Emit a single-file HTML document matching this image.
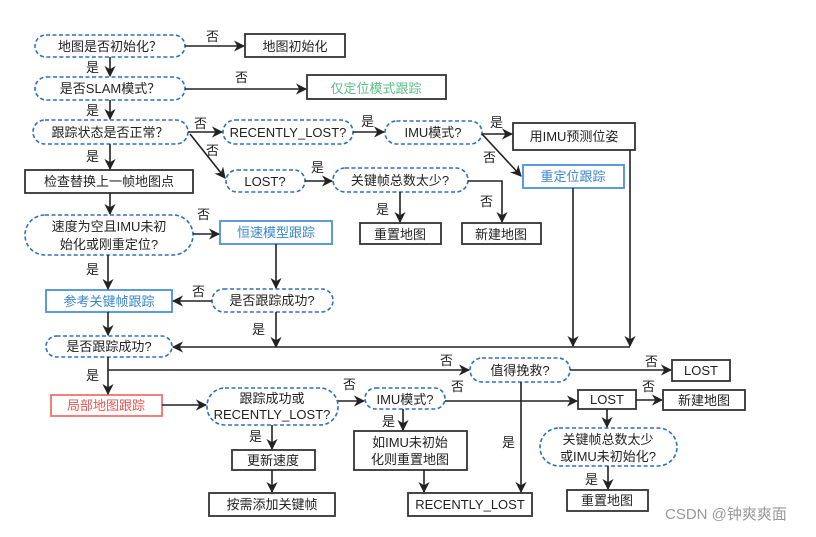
<!DOCTYPE html>
<html><head><meta charset="utf-8"><style>
body{margin:0;background:#fff}
svg text{font-family:"Liberation Sans","Noto Sans CJK SC",sans-serif;font-size:13px;fill:#222}
</style></head><body>
<svg width="816" height="532" viewBox="0 0 816 532" xmlns="http://www.w3.org/2000/svg">
<defs><marker id="a" viewBox="0 0 10 10" refX="9" refY="5" markerWidth="7" markerHeight="7" orient="auto"><path d="M0,0 L10,5 L0,10 L3,5z" fill="#222"/></marker></defs>
<g fill="none" stroke="#2f6fc0" stroke-width="1.6" stroke-dasharray="4,2.5">
<rect x="35" y="35" width="150" height="22" rx="11"/>
<rect x="35" y="77" width="150" height="23" rx="11.5"/>
<rect x="33" y="120" width="155" height="24" rx="12"/>
<rect x="223" y="120" width="130" height="24" rx="12"/>
<rect x="385" y="121" width="97" height="23" rx="11.5"/>
<rect x="226" y="170" width="79" height="22" rx="11"/>
<rect x="333" y="168" width="135" height="24" rx="12"/>
<rect x="25" y="215" width="168" height="40" rx="20"/>
<rect x="212" y="289" width="121" height="23" rx="11.5"/>
<rect x="46" y="336" width="126" height="21" rx="10.5"/>
<rect x="470" y="358" width="100" height="24" rx="12"/>
<rect x="207" y="388" width="131" height="37" rx="18"/>
<rect x="365" y="388" width="80" height="21" rx="10.5"/>
<rect x="540" y="428" width="137" height="38" rx="19"/>
</g>
<g fill="none" stroke="#333" stroke-width="1.8">
<rect x="245" y="34" width="100" height="23"/>
<rect x="307" y="75" width="139" height="24"/>
<rect x="513" y="123" width="122" height="27"/>
<rect x="25" y="170" width="168" height="23"/>
<rect x="360" y="223" width="81" height="21"/>
<rect x="462" y="223" width="79" height="21"/>
<rect x="672" y="360" width="58" height="21"/>
<rect x="578" y="390" width="58" height="19"/>
<rect x="663" y="390" width="82" height="20"/>
<rect x="354" y="431" width="113" height="39"/>
<rect x="232" y="450" width="83" height="20"/>
<rect x="209" y="493" width="126" height="23"/>
<rect x="408" y="493" width="124" height="23"/>
<rect x="567" y="490" width="81" height="21"/>
</g>
<g fill="none" stroke="#4a90d9" stroke-width="1.8">
<rect x="523" y="165" width="101" height="23"/>
<rect x="220" y="221" width="112" height="23"/>
<rect x="46" y="290" width="126" height="22"/>
</g>
<rect x="51" y="395" width="111" height="21" fill="none" stroke="#f07070" stroke-width="1.8"/>
<g stroke="#222" stroke-width="1.6" fill="none" marker-end="url(#a)">
<line x1="185" y1="46" x2="244" y2="46"/>
<line x1="110" y1="57" x2="110" y2="76"/>
<line x1="185" y1="89" x2="306" y2="89"/>
<line x1="110" y1="100" x2="110" y2="119"/>
<line x1="188" y1="132" x2="222" y2="132"/>
<line x1="190" y1="134" x2="225" y2="178"/>
<line x1="353" y1="132" x2="384" y2="132"/>
<line x1="482" y1="134" x2="512" y2="134"/>
<line x1="482" y1="134" x2="521" y2="176"/>
<line x1="305" y1="181" x2="332" y2="181"/>
<line x1="400" y1="192" x2="400" y2="222"/>
<polyline points="468,181 502,181 502,222"/>
<line x1="110" y1="144" x2="110" y2="169"/>
<line x1="110" y1="193" x2="110" y2="214"/>
<line x1="193" y1="234" x2="219" y2="234"/>
<line x1="108" y1="255" x2="108" y2="289"/>
<line x1="276" y1="244" x2="276" y2="288"/>
<line x1="212" y1="301" x2="173" y2="301"/>
<line x1="108" y1="312" x2="108" y2="335"/>
<line x1="276" y1="312" x2="276" y2="347"/>
<line x1="630" y1="347" x2="173" y2="347"/>
<line x1="573" y1="188" x2="573" y2="346"/>
<line x1="630" y1="150" x2="630" y2="346"/>
<line x1="108" y1="357" x2="108" y2="394"/>
<polyline points="108,370 469,370"/>
<line x1="162" y1="405" x2="206" y2="405"/>
<line x1="338" y1="401" x2="364" y2="401"/>
<line x1="445" y1="401" x2="577" y2="401"/>
<line x1="570" y1="370" x2="671" y2="370"/>
<line x1="521" y1="382" x2="521" y2="492"/>
<line x1="636" y1="400" x2="662" y2="400"/>
<line x1="607" y1="409" x2="607" y2="427"/>
<line x1="608" y1="466" x2="608" y2="489"/>
<line x1="403" y1="409" x2="403" y2="430"/>
<line x1="424" y1="470" x2="424" y2="492"/>
<line x1="272" y1="425" x2="272" y2="449"/>
<line x1="272" y1="470" x2="272" y2="492"/>
</g>
<g text-anchor="middle">
<text x="110" y="51">地图是否初始化？</text>
<text x="295" y="51">地图初始化</text>
<text x="110" y="93">是否SLAM模式？</text>
<text x="376" y="93" fill="#5cbf8a" style="fill:#5cbf8a">仅定位模式跟踪</text>
<text x="110" y="137">跟踪状态是否正常？</text>
<text x="288" y="137">RECENTLY_LOST?</text>
<text x="433" y="137">IMU模式?</text>
<text x="574" y="141">用IMU预测位姿</text>
<text x="573" y="181" style="fill:#3a86d0">重定位跟踪</text>
<text x="109" y="186">检查替换上一帧地图点</text>
<text x="265" y="186">LOST?</text>
<text x="400" y="185">关键帧总数太少?</text>
<text x="400" y="239">重置地图</text>
<text x="501" y="239">新建地图</text>
<text x="109" y="231">速度为空且IMU未初</text>
<text x="109" y="249">始化或刚重定位?</text>
<text x="276" y="237" style="fill:#3a86d0">恒速模型跟踪</text>
<text x="109" y="306" style="fill:#3a86d0">参考关键帧跟踪</text>
<text x="272" y="305">是否跟踪成功?</text>
<text x="109" y="351">是否跟踪成功?</text>
<text x="520" y="375">值得挽救?</text>
<text x="701" y="375">LOST</text>
<text x="106" y="410" style="fill:#e85555">局部地图跟踪</text>
<text x="272" y="403">跟踪成功或</text>
<text x="272" y="419">RECENTLY_LOST?</text>
<text x="405" y="404">IMU模式?</text>
<text x="607" y="404">LOST</text>
<text x="704" y="405">新建地图</text>
<text x="410" y="447">如IMU未初始</text>
<text x="410" y="464">化则重置地图</text>
<text x="608" y="444">关键帧总数太少</text>
<text x="608" y="461">或IMU未初始化?</text>
<text x="273" y="465">更新速度</text>
<text x="272" y="509">按需添加关键帧</text>
<text x="470" y="509">RECENTLY_LOST</text>
<text x="607" y="505">重置地图</text>
</g>
<g>
<text x="206" y="41">否</text><text x="86" y="72">是</text>
<text x="235" y="82">否</text><text x="86" y="115">是</text>
<text x="194" y="128">否</text><text x="206" y="155">否</text>
<text x="361" y="126">是</text><text x="490" y="127">是</text>
<text x="483" y="162">否</text><text x="311" y="172">是</text>
<text x="376" y="214">是</text><text x="480" y="206">否</text>
<text x="86" y="161">是</text><text x="197" y="219">否</text>
<text x="86" y="274">是</text><text x="192" y="296">否</text>
<text x="252" y="334">是</text><text x="86" y="380">是</text>
<text x="440" y="365">否</text><text x="343" y="389">否</text>
<text x="451" y="391">否</text><text x="645" y="366">否</text>
<text x="502" y="447">是</text><text x="642" y="391">否</text>
<text x="585" y="484">是</text><text x="382" y="426">是</text>
<text x="249" y="441">是</text>
</g>
<text x="665" y="519" style="font-size:15px;fill:#999">CSDN @钟爽爽面</text>
</svg>
</body></html>
